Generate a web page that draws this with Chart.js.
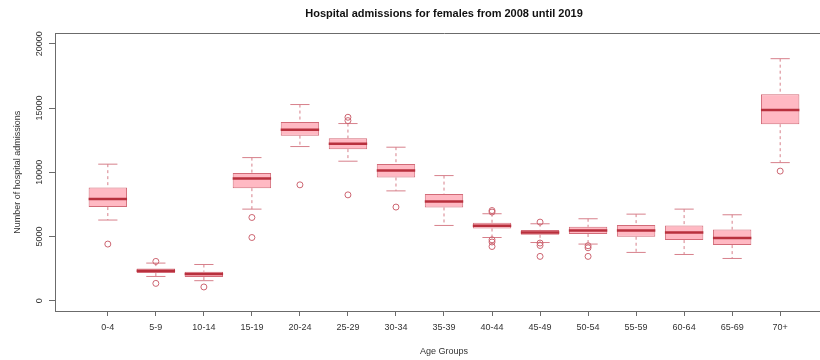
<!DOCTYPE html>
<html lang="en">
<head>
<meta charset="UTF-8">
<title>Hospital admissions for females from 2008 until 2019</title>
<script src="https://cdn.jsdelivr.net/npm/chart.js"></script>
<style>
    html, body { margin: 0; padding: 0; background: #fff; overflow: hidden; }
    #boxChart { display: block; }
</style>
</head>
<body>
<canvas id="boxChart" width="840" height="360"></canvas>
<script>
// Возрастные группы
const ageGroups = ['0-4', '5-9', '10-14', '15-19', '20-24', '25-29', '30-34', '35-39',
    '40-44', '45-49', '50-54', '55-59', '60-64', '65-69', '70+'];

// Статистики ящиков по каждой группе (2008–2019)
const whiskerLow  = [6280, 1890, 1560, 7130, 12000, 10860, 8550, 5860, 4920, 4530, 4410, 3760, 3600, 3290, 10750];
const quartile1   = [7290, 2150, 1840, 8760, 12850, 11800, 9590, 7260, 5620, 5130, 5190, 4980, 4720, 4330, 13740];
const medians     = [7910, 2330, 2080, 9510, 13300, 12210, 10130, 7720, 5830, 5310, 5470, 5470, 5310, 4880, 14850];
const quartile3   = [8810, 2510, 2260, 9950, 13920, 12650, 10650, 8300, 6070, 5500, 5750, 5890, 5860, 5540, 16070];
const whiskerHigh = [10630, 2930, 2820, 11140, 15270, 13790, 11950, 9740, 6770, 5990, 6380, 6740, 7130, 6690, 18840];

// Выбросы (по группам)
const outliers = [
    [4410],
    [3060, 1350],
    [1070],
    [6480, 4920],
    [9020],
    [14280, 14020, 8240],
    [7290],
    [],
    [7020, 6900, 4740, 4570, 4220],
    [6120, 4490, 4300, 3450],
    [4280, 4120, 3450],
    [],
    [],
    [],
    [10090]
];

// Деления оси Y
const yTicks = [0, 5000, 10000, 15000, 20000];

document.addEventListener('DOMContentLoaded', () => {
    Chart.defaults.font.family = "'Liberation Sans', Arial, sans-serif";
    Chart.defaults.font.size = 9;
    Chart.defaults.color = '#333';

    const frameColor = '#6b6b6b';
    const boxFill = '#ffb9c3';
    const boxBorder = '#d26b78';
    const medianColor = '#b8303d';
    const whiskerColor = '#d7808b';
    const outlierColor = '#cc6470';

    // Половина ширины в пикселях для заданной доли шага по оси X
    const halfWidth = (chart, units) => {
        const x = chart.scales.x;
        if (!x) return 0;
        return Math.abs(x.getPixelForValue(units) - x.getPixelForValue(0));
    };

    // ---------------------------
    // Наборы данных
    // ---------------------------
    // Усы: от квартилей до крайних значений, с разрывами между группами
    const whiskerPoints = [];
    ageGroups.forEach((g, i) => {
        whiskerPoints.push({ x: i + 1, y: whiskerHigh[i] });
        whiskerPoints.push({ x: i + 1, y: quartile3[i] });
        whiskerPoints.push({ x: i + 1, y: null });
        whiskerPoints.push({ x: i + 1, y: quartile1[i] });
        whiskerPoints.push({ x: i + 1, y: whiskerLow[i] });
        whiskerPoints.push({ x: i + 1, y: null });
    });

    const boxes = ageGroups.map((g, i) => ({ x: i + 1, y: [quartile1[i], quartile3[i]] }));
    const medianPoints = ageGroups.map((g, i) => ({ x: i + 1, y: medians[i] }));

    const capPoints = [];
    ageGroups.forEach((g, i) => {
        capPoints.push({ x: i + 1, y: whiskerHigh[i] });
        capPoints.push({ x: i + 1, y: whiskerLow[i] });
    });

    const outlierPoints = [];
    outliers.forEach((list, i) => {
        list.forEach(v => outlierPoints.push({ x: i + 1, y: v }));
    });

    const ctx = document.getElementById('boxChart').getContext('2d');
    new Chart(ctx, {
        data: {
            datasets: [
                {
                    type: 'line',
                    data: whiskerPoints,
                    borderColor: whiskerColor,
                    borderWidth: 1,
                    borderDash: [3, 3],
                    pointRadius: 0,
                    spanGaps: false,
                    order: 5
                },
                {
                    type: 'bar',
                    data: boxes,
                    backgroundColor: boxFill,
                    borderColor: boxBorder,
                    borderWidth: 1,
                    borderSkipped: false,
                    barPercentage: 0.8,
                    categoryPercentage: 1,
                    order: 4
                },
                {
                    type: 'scatter',
                    data: capPoints,
                    pointStyle: 'line',
                    pointRadius: c => halfWidth(c.chart, 0.2),
                    pointBorderColor: whiskerColor,
                    pointBorderWidth: 1,
                    order: 3
                },
                {
                    type: 'scatter',
                    data: medianPoints,
                    pointStyle: 'line',
                    pointRadius: c => halfWidth(c.chart, 0.4),
                    pointBorderColor: medianColor,
                    pointBorderWidth: 2.5,
                    order: 2
                },
                {
                    type: 'scatter',
                    data: outlierPoints,
                    pointStyle: 'circle',
                    pointRadius: 3,
                    pointBackgroundColor: 'rgba(0,0,0,0)',
                    pointBorderColor: outlierColor,
                    pointBorderWidth: 1,
                    order: 1
                }
            ]
        },
        options: {
            responsive: false,
            animation: false,
            events: [],
            layout: { padding: { right: 7 } },
            plugins: {
                legend: { display: false },
                tooltip: { enabled: false }
            },
            scales: {
                x: {
                    type: 'linear',
                    position: 'bottom',
                    min: -0.1,
                    max: 16.1,
                    offset: false,
                    afterBuildTicks: s => { s.ticks = ageGroups.map((g, i) => ({ value: i + 1 })); },
                    afterFit: s => { s.height = 49; },
                    grid: { display: true, offset: false, drawOnChartArea: false, drawTicks: true, tickLength: 5, color: frameColor },
                    border: { display: true, color: frameColor, width: 1 },
                    ticks: {
                        autoSkip: false,
                        maxRotation: 0,
                        padding: 6,
                        callback: v => ageGroups[v - 1] || ''
                    },
                    title: { display: true, text: 'Age Groups', padding: { top: 0, bottom: 3 } }
                },
                top: {
                    type: 'linear',
                    position: 'top',
                    min: -0.1,
                    max: 16.1,
                    afterFit: s => { s.height = 33.5; },
                    grid: { display: true, drawOnChartArea: false, drawTicks: false },
                    border: { display: true, color: frameColor, width: 1 },
                    ticks: { display: false },
                    title: {
                        display: true,
                        text: 'Hospital admissions for females from 2008 until 2019',
                        color: '#111',
                        font: { size: 11, weight: 'bold' },
                        padding: { top: 7, bottom: 0 }
                    }
                },
                y: {
                    type: 'linear',
                    position: 'left',
                    min: -800,
                    max: 20800,
                    afterBuildTicks: s => { s.ticks = yTicks.map(v => ({ value: v })); },
                    afterFit: s => { s.width = 55; },
                    grid: { display: true, drawOnChartArea: false, drawTicks: true, tickLength: 6, color: frameColor },
                    border: { display: true, color: frameColor, width: 1 },
                    ticks: {
                        minRotation: 90,
                        maxRotation: 90,
                        crossAlign: 'center',
                        padding: -3,
                        callback: v => String(v)
                    },
                    title: { display: true, text: 'Number of hospital admissions', padding: { top: 12, bottom: 0 } }
                }
            }
        }
    });
});
</script>
</body>
</html>
